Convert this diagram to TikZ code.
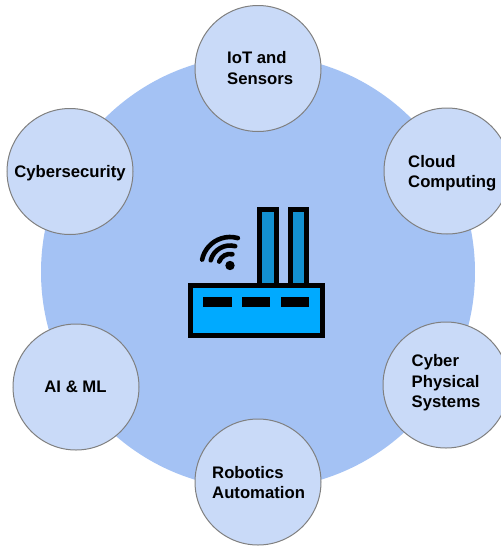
\documentclass[tikz,border=0pt]{standalone}
\usepackage{fontspec}
\setmainfont{Liberation Sans}
\definecolor{bigc}{HTML}{A4C2F4}
\definecolor{smallc}{HTML}{C9DAF8}
\definecolor{edgec}{HTML}{808080}
\definecolor{chim}{HTML}{1390D0}
\definecolor{basec}{HTML}{00AAFF}
\tikzset{
  topic/.style={circle,draw=edgec,line width=1pt,fill=smallc,minimum size=126pt,inner sep=0pt},
  lbl/.style={font=\fontsize{16.7}{20.5}\selectfont\bfseries,text=black,align=left,inner sep=0pt},
  iconpart/.style={draw=black,line width=4.8pt,miter limit=10},
  wave/.style={draw=black,line width=4.6pt,line cap=round}
}
\begin{document}
\begin{tikzpicture}[x=1pt,y=-1pt]
\useasboundingbox (0,0) rectangle (501,547);
\fill[white] (0,0) rectangle (501,547);
\node[circle,fill=bigc,minimum size=434pt,inner sep=0pt] (hub) at (258,272) {};
\node[topic] (iot) at (258,68.5) {};
\node[topic] (cloud) at (447,171) {};
\node[topic] (cps) at (446,385) {};
\node[topic] (rob) at (258,482) {};
\node[topic] (ai) at (76,387) {};
\node[topic] (sec) at (70,171.5) {};
\node[lbl,anchor=west] (iottext) at (227,68) {IoT and\\Sensors};
\node[lbl,anchor=west] (cloudtext) at (408,173) {Cloud\\Computing};
\node[lbl,anchor=west] (cpstext) at (411.5,383) {Cyber\\Physical\\Systems};
\node[lbl,anchor=west] (robtext) at (212,482.5) {Robotics\\Automation};
\node[lbl] (aitext) at (75.5,387) {AI \& ML};
\node[lbl] (sectext) at (70,173) {Cybersecurity};
% factory icon
\path[iconpart,fill=chim] (259.5,209.5) rectangle (276.5,285);
\path[iconpart,fill=chim] (290.5,209.5) rectangle (306.5,285);
\path[iconpart,fill=basec] (190.5,285.5) rectangle (322.5,335.5);
\fill[black] (203,297) rectangle (232,307);
\fill[black] (242,297) rectangle (270,307);
\fill[black] (281,297) rectangle (309,307);
\coordinate (wifi) at (230,265.5);
\fill[black] (wifi) circle[radius=4.7];
\draw[wave] (wifi) ++(-168:28.5) arc[start angle=-168,end angle=-74,radius=28.5];
\draw[wave] (wifi) ++(-165:20) arc[start angle=-165,end angle=-75,radius=20];
\draw[wave] (wifi) ++(-160:11.5) arc[start angle=-160,end angle=-78,radius=11.5];
\end{tikzpicture}
\end{document}
